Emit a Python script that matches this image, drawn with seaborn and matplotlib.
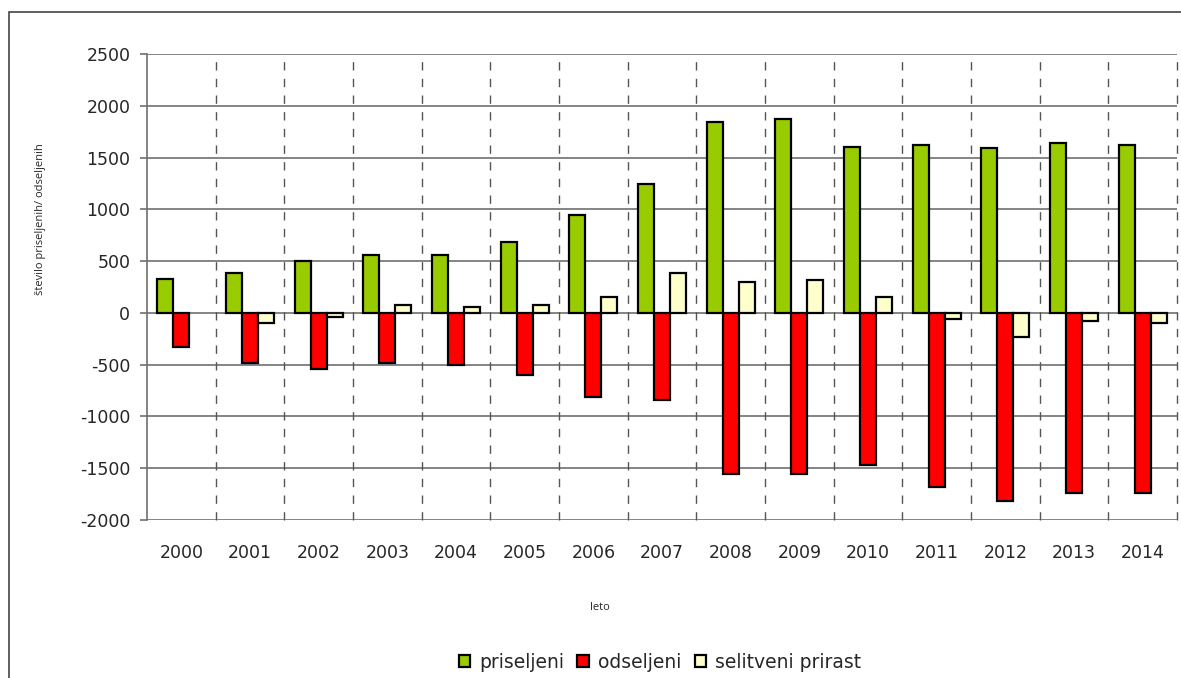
import matplotlib
matplotlib.use("Agg")
import matplotlib.pyplot as plt
from matplotlib.patches import Patch, Rectangle
import seaborn as sns
import pandas as pd
import numpy as np

years = [str(y) for y in range(2000, 2015)]
priseljeni = [330, 390, 505, 560, 560, 680, 950, 1240, 1840, 1875, 1605, 1625, 1590, 1645, 1625]
odseljeni = [-330, -485, -540, -485, -500, -600, -815, -845, -1560, -1560, -1470, -1685, -1820, -1740, -1740]
selitveni_prirast = [np.nan, -97, -39, 77, 60, 78, 155, 390, 294, 313, 155, -58, -232, -77, -97]
series_names = ["priseljeni", "odseljeni", "selitveni prirast"]
colors = ["#99CC00", "#FF0000", "#FFFFCC"]
yticks = [-2000, -1500, -1000, -500, 0, 500, 1000, 1500, 2000, 2500]

df = pd.DataFrame({
    "leto": years * 3,
    "vrednost": priseljeni + odseljeni + selitveni_prirast,
    "serija": [series_names[0]] * len(years) + [series_names[1]] * len(years) + [series_names[2]] * len(years),
})

sns.set_style("white")
plt.rcParams["font.family"] = ["DejaVu Sans"]

fig = plt.figure(figsize=(11.81, 6.78), dpi=100)
ax = fig.add_axes([147 / 1181, 1 - 520 / 678, (1177 - 147) / 1181, (520 - 54) / 678])

sns.barplot(data=df, x="leto", y="vrednost", hue="serija", order=years,
            hue_order=series_names, palette=colors, saturation=1, width=0.7, gap=0,
            edgecolor="black", linewidth=1.6, ax=ax, legend=False, zorder=3)

ax.set_xlim(-0.5, len(years) - 0.5)
ax.set_ylim(yticks[0], yticks[-1])
ax.set_yticks(yticks)
ax.set_yticklabels([str(v) for v in yticks], fontsize=12.5)
for v in yticks:
    ax.axhline(v, color="#707070", lw=1.2, zorder=1)
for k in range(1, len(years) + 1):
    ax.axvline(k - 0.5, color="#555555", lw=1, ls=(0, (6, 6)), zorder=1, clip_on=False)

for s in ["top", "right", "bottom"]:
    ax.spines[s].set_visible(False)
ax.spines["left"].set_color("#707070")
ax.spines["left"].set_linewidth(1.2)
ax.tick_params(axis="y", length=5, width=1.2, color="#707070", left=True, pad=7)
ax.tick_params(axis="x", length=0, pad=17, labelsize=12.5)

ax.set_ylabel("število priseljenih/ odseljenih", fontsize=8, fontfamily="Open Sans")
ax.yaxis.set_label_coords(-0.098, 0.645)
ax.set_xlabel("leto", fontsize=8, fontfamily="Open Sans")
ax.xaxis.set_label_coords(0.44, -0.175)

handles = [Patch(facecolor=c, edgecolor="black", linewidth=1.6) for c in colors]
fig.legend(handles, series_names, loc="center", bbox_to_anchor=(660 / 1181, 1 - 662 / 678),
           ncol=3, frameon=False, fontsize=13.5, handlelength=0.6, handleheight=0.6,
           handletextpad=0.5, columnspacing=0.7)

fig.patches.append(Rectangle((9 / 1181, -0.05), 1.1, 1 - 12 / 678 + 0.05,
                             transform=fig.transFigure, fill=False,
                             edgecolor="#444444", linewidth=1.2))

fig.savefig("out.png", dpi=100)
